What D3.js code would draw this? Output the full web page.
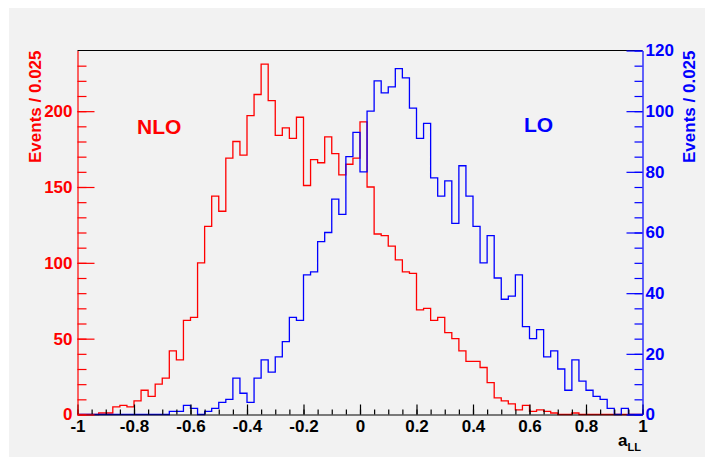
<!DOCTYPE html>
<html>
<head>
<meta charset="utf-8">
<script src="https://cdn.jsdelivr.net/npm/d3@7"></script>
<style>
  body { margin: 0; background: #ffffff; }
  svg { display: block; font-family: "Liberation Sans", Arial, sans-serif; }
  .tick text { font-weight: bold; font-size: 17px; }
</style>
</head>
<body>
<div id="chart"></div>
<script>
// bin range of the histograms (80 bins of 0.025)
var xMin = -1;
var binWidth = 0.025;

// NLO counts per bin, left axis
var nloCounts = [
    0, 0, 0, 1, 1, 5, 6, 5, 9, 16,
    12, 20, 24, 42, 36, 62, 64, 100, 124, 144,
    134, 169, 180, 171, 197, 211, 231, 207, 184, 189,
    182, 196, 151, 168, 166, 183, 172, 158, 165, 169,
    193, 150, 119, 118, 111, 102, 94, 93, 69, 70,
    62, 64, 54, 50, 42, 35, 35, 31, 21, 11,
    9, 7, 3, 6, 2, 3, 2, 1, 0, 0,
    1, 0, 0, 0, 0, 0, 0, 0, 0, 0
];

// LO counts per bin, right axis
var loCounts = [
    0, 0, 0, 0, 0, 0, 0, 0, 0, 0,
    0, 0, 0, 1, 1, 3, 2, 0, 1, 2,
    4, 5, 12, 7, 4, 12, 18, 14, 19, 24,
    32, 31, 46, 47, 57, 60, 71, 66, 85, 93,
    80, 100, 110, 106, 108, 114, 111, 101, 91, 96,
    78, 72, 77, 63, 82, 72, 62, 50, 59, 45,
    38, 39, 46, 29, 25, 28, 19, 21, 15, 8,
    18, 11, 8, 6, 5, 2, 0, 2, 0, 0
];

var xTicks = [-1, -0.8, -0.6, -0.4, -0.2, 0, 0.2, 0.4, 0.6, 0.8, 1];
var leftTicks = [0, 50, 100, 150, 200];
var rightTicks = [0, 20, 40, 60, 80, 100, 120];

var width = 705, height = 457;
var plot = { left: 77.5, right: 642.5, top: 50.5, bottom: 414.5 };

var svg = d3.select('#chart').append('svg')
    .attr('width', width)
    .attr('height', height);

// canvas fill
svg.append('rect')
    .attr('x', 9).attr('y', 8)
    .attr('width', width - 9).attr('height', height - 8)
    .attr('fill', '#f2f2f2');

var x = d3.scaleLinear().domain([-1, 1]).range([plot.left, plot.right]);
var yL = d3.scaleLinear().domain([0, 240]).range([plot.bottom, plot.top]);
var yR = d3.scaleLinear().domain([0, 120]).range([plot.bottom, plot.top]);

function histPoints(counts) {
    var pts = [[xMin, 0]];
    counts.forEach(function (c, i) {
        pts.push([xMin + i * binWidth, c]);
    });
    pts.push([xMin + counts.length * binWidth, counts[counts.length - 1]]);
    pts.push([xMin + counts.length * binWidth, 0]);
    return pts;
}

function drawHist(counts, yScale, color) {
    var line = d3.line()
        .x(function (d) { return x(d[0]); })
        .y(function (d) { return yScale(d[1]); })
        .curve(d3.curveStepAfter);
    svg.append('path')
        .attr('d', line(histPoints(counts)))
        .attr('fill', 'none')
        .attr('stroke', color)
        .attr('stroke-width', 1.3);
}

drawHist(nloCounts, yL, '#ff0000');
drawHist(loCounts, yR, '#0000ff');

// top frame line
svg.append('line')
    .attr('x1', plot.left).attr('x2', plot.right)
    .attr('y1', plot.top).attr('y2', plot.top)
    .attr('stroke', '#000').attr('stroke-width', 1);

function styleAxis(g, color) {
    g.select('.domain').attr('stroke', color).attr('stroke-width', 1.2);
    g.selectAll('.tick line').attr('stroke', color).attr('stroke-width', 1.2);
    g.selectAll('.tick text').attr('fill', color);
}

// bottom axis: minor ticks every 0.05, major every 0.2
var minorX = d3.range(0, 41).map(function (i) { return -1 + i * 0.05; });
svg.append('g')
    .attr('transform', 'translate(0,' + plot.bottom + ')')
    .call(d3.axisBottom(x).tickValues(minorX).tickSizeInner(-5).tickSizeOuter(0).tickFormat(''))
    .call(function (g) { g.select('.domain').remove(); styleAxis(g, '#000'); });
svg.append('g')
    .attr('transform', 'translate(0,' + plot.bottom + ')')
    .call(d3.axisBottom(x).tickValues(xTicks).tickSizeInner(-10).tickSizeOuter(0)
        .tickPadding(5).tickFormat(function (d) { return String(d); }))
    .call(function (g) { styleAxis(g, '#000'); });

// left axis (NLO)
svg.append('g')
    .attr('transform', 'translate(' + plot.left + ',0)')
    .call(d3.axisLeft(yL).tickValues(d3.range(0, 240, 10)).tickSizeInner(-9).tickSizeOuter(0).tickFormat(''))
    .call(function (g) { g.select('.domain').remove(); styleAxis(g, '#ff0000'); });
svg.append('g')
    .attr('transform', 'translate(' + plot.left + ',0)')
    .call(d3.axisLeft(yL).tickValues(leftTicks).tickSizeInner(-17).tickSizeOuter(0).tickPadding(5))
    .call(function (g) { styleAxis(g, '#ff0000'); });

// right axis (LO)
svg.append('g')
    .attr('transform', 'translate(' + plot.right + ',0)')
    .call(d3.axisRight(yR).tickValues(d3.range(0, 121, 5)).tickSizeInner(-8).tickSizeOuter(0).tickFormat(''))
    .call(function (g) { g.select('.domain').remove(); styleAxis(g, '#0000ff'); });
svg.append('g')
    .attr('transform', 'translate(' + plot.right + ',0)')
    .call(d3.axisRight(yR).tickValues(rightTicks).tickSizeInner(-16).tickSizeOuter(0).tickPadding(3))
    .call(function (g) { styleAxis(g, '#0000ff'); });

// axis titles
svg.append('text')
    .attr('transform', 'translate(40.5,' + plot.top + ') rotate(-90)')
    .attr('text-anchor', 'end')
    .attr('fill', '#ff0000')
    .attr('font-weight', 'bold')
    .attr('font-size', 17)
    .text('Events / 0.025');

svg.append('text')
    .attr('transform', 'translate(695,' + plot.top + ') rotate(-90)')
    .attr('text-anchor', 'end')
    .attr('fill', '#0000ff')
    .attr('font-weight', 'bold')
    .attr('font-size', 17)
    .text('Events / 0.025');

var xTitle = svg.append('text')
    .attr('x', 641).attr('y', 446)
    .attr('text-anchor', 'end')
    .attr('font-weight', 'bold')
    .attr('font-size', 17)
    .attr('fill', '#000');
xTitle.append('tspan').text('a');
xTitle.append('tspan').attr('font-size', 11).attr('dy', 5).text('LL');

// labels
svg.append('text')
    .attr('x', 137).attr('y', 134)
    .attr('fill', '#ff0000')
    .attr('font-weight', 'bold')
    .attr('font-size', 21)
    .text('NLO');

svg.append('text')
    .attr('x', 524).attr('y', 131.5)
    .attr('fill', '#0000ff')
    .attr('font-weight', 'bold')
    .attr('font-size', 21)
    .text('LO');
</script>
</body>
</html>
